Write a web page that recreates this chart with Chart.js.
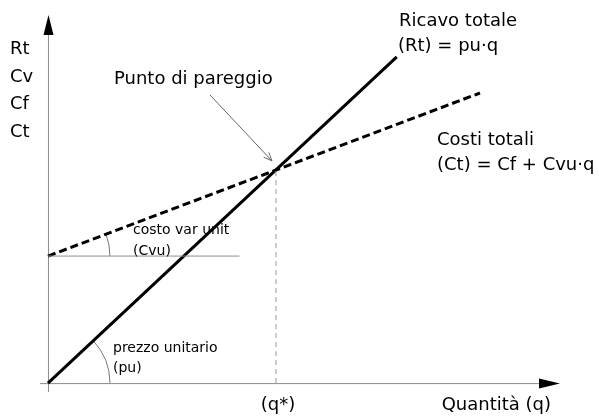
<!DOCTYPE html>
<html>
<head>
<meta charset="utf-8">
<script src="https://cdn.jsdelivr.net/npm/chart.js@4"></script>
<style>
  html, body { margin: 0; padding: 0; background: #fff; }
  #wrap { width: 599px; height: 416px; }
</style>
</head>
<body>
<div id="wrap"><canvas id="chart"></canvas></div>
<script>
// Punti (q, valore)
const revenueQ = [0, 15.3];
const revenueV = [0, 14.3];
const costQ = [0, 18.95];
const costV = [5.57, 12.72];
const fixedCost = 5.57;
const fixedCostEnd = 8.4;
const breakEvenQ = 10;
const breakEvenV = 9.35;

const FONT = '"DejaVu Sans", sans-serif';

const toPoints = (xs, ys) => xs.map((x, i) => ({ x: x, y: ys[i] }));

// assi, frecce, archi e testi
const drawingPlugin = {
  id: 'drawing',
  beforeDatasetsDraw(chart) {
    const { ctx, chartArea: a, scales: { x, y } } = chart;
    const x0 = x.getPixelForValue(0);
    const y0 = y.getPixelForValue(0);
    ctx.save();
    ctx.strokeStyle = '#8c8c8c';
    ctx.lineWidth = 1;
    ctx.beginPath();
    ctx.moveTo(a.left, y0 + 0.5);
    ctx.lineTo(a.right - 15, y0 + 0.5);
    ctx.moveTo(x0 + 0.5, a.bottom);
    ctx.lineTo(x0 + 0.5, a.top + 15);
    ctx.stroke();

    ctx.fillStyle = '#000';
    ctx.beginPath();
    ctx.moveTo(a.right, y0 + 0.5);
    ctx.lineTo(a.right - 21, y0 - 4.5);
    ctx.lineTo(a.right - 21, y0 + 5.5);
    ctx.closePath();
    ctx.fill();
    ctx.beginPath();
    ctx.moveTo(x0 + 0.5, a.top);
    ctx.lineTo(x0 - 4.5, a.top + 20);
    ctx.lineTo(x0 + 5.5, a.top + 20);
    ctx.closePath();
    ctx.fill();

    // archi degli angoli
    const yc = y.getPixelForValue(fixedCost);
    const angCost = Math.atan2(y.getPixelForValue(costV[1]) - yc, x.getPixelForValue(costQ[1]) - x0);
    const angRev = Math.atan2(y.getPixelForValue(revenueV[1]) - y0, x.getPixelForValue(revenueQ[1]) - x0);
    ctx.strokeStyle = '#777';
    ctx.beginPath();
    ctx.arc(x0, yc, 62, angCost, 0);
    ctx.stroke();
    ctx.beginPath();
    ctx.arc(x0, y0, 62, angRev, 0);
    ctx.stroke();
    ctx.restore();
  },
  afterDraw(chart) {
    const { ctx, scales: { x, y } } = chart;
    const bx = x.getPixelForValue(breakEvenQ);
    const by = y.getPixelForValue(breakEvenV);
    ctx.save();
    ctx.fillStyle = '#000';
    ctx.textBaseline = 'alphabetic';

    ctx.font = '18px ' + FONT;
    ctx.textAlign = 'left';
    ['Rt', 'Cv', 'Cf', 'Ct'].forEach((t, i) => ctx.fillText(t, 10, 54 + i * 27.5));

    ctx.fillText('Punto di pareggio', 114, 84);
    ctx.fillText('Ricavo totale', 399, 26);
    ctx.fillText('(Rt) = pu·q', 398, 51);
    ctx.fillText('Costi totali', 437, 145);
    ctx.fillText('(Ct) = Cf + Cvu·q', 437, 170);
    ctx.textAlign = 'right';
    ctx.fillText('Quantità (q)', 551, 410);
    ctx.textAlign = 'center';
    ctx.fillText('(q*)', bx + 2, 410);

    ctx.font = '14px ' + FONT;
    ctx.textAlign = 'left';
    ctx.fillText('costo var unit', 133, 234);
    ctx.fillText('(Cvu)', 133, 255);
    ctx.fillText('prezzo unitario', 113, 352);
    ctx.fillText('(pu)', 113, 372);

    // freccia del punto di pareggio
    ctx.strokeStyle = '#666';
    ctx.lineWidth = 1;
    const sx = 210, sy = 95, ex = bx - 4, ey = by - 9;
    const ang = Math.atan2(ey - sy, ex - sx);
    ctx.beginPath();
    ctx.moveTo(sx, sy);
    ctx.lineTo(ex, ey);
    ctx.moveTo(ex - 9 * Math.cos(ang - 0.4), ey - 9 * Math.sin(ang - 0.4));
    ctx.lineTo(ex, ey);
    ctx.lineTo(ex - 9 * Math.cos(ang + 0.4), ey - 9 * Math.sin(ang + 0.4));
    ctx.stroke();
    ctx.restore();
  }
};

new Chart(document.getElementById('chart'), {
  type: 'line',
  data: {
    datasets: [{
      label: 'Costo fisso',
      data: toPoints([0, fixedCostEnd], [fixedCost, fixedCost]),
      borderColor: '#8c8c8c',
      borderWidth: 1
    }, {
      label: 'q*',
      data: toPoints([breakEvenQ, breakEvenQ], [0, breakEvenV]),
      borderColor: '#999',
      borderWidth: 1,
      borderDash: [5, 4]
    }, {
      label: 'Costi totali',
      data: toPoints(costQ, costV),
      borderColor: '#000',
      borderWidth: 3,
      borderDash: [8, 4]
    }, {
      label: 'Ricavo totale',
      data: toPoints(revenueQ, revenueV),
      borderColor: '#000',
      borderWidth: 3
    }]
  },
  options: {
    responsive: true,
    maintainAspectRatio: false,
    animation: false,
    layout: { padding: { left: 40, right: 39, top: 15, bottom: 24 } },
    elements: { point: { radius: 0 }, line: { tension: 0, borderCapStyle: 'butt' } },
    plugins: { legend: { display: false }, tooltip: { enabled: false } },
    scales: {
      x: { type: 'linear', min: -0.35, max: 22.46, display: false },
      y: { type: 'linear', min: -0.39, max: 16.14, display: false }
    }
  },
  plugins: [drawingPlugin]
});
</script>
</body>
</html>
